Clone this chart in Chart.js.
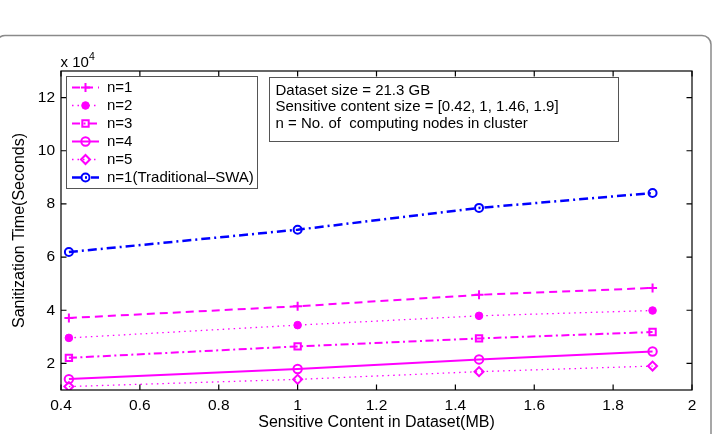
<!DOCTYPE html>
<html>
<head>
<meta charset="utf-8">
<script src="https://cdn.jsdelivr.net/npm/chart.js@4/dist/chart.umd.min.js"></script>
<style>
html,body{margin:0;padding:0;background:#fff;}
#wrap{width:719px;height:434px;position:relative;}
</style>
</head>
<body>
<div id="wrap"><canvas id="c" width="719" height="434"></canvas></div>
<script>
// ---- data ----
const sensitiveSizes = [0.42, 1, 1.46, 1.9];          // MB
const seriesLabels = ['n=1', 'n=2', 'n=3', 'n=4', 'n=5', 'n=1(Traditional\u2013SWA)'];
const timeN1 = [37100, 41500, 45800, 48400];
const timeN2 = [29600, 34400, 37900, 39900];
const timeN3 = [22100, 26400, 29400, 31800];
const timeN4 = [14100, 17900, 21500, 24500];
const timeN5 = [11300, 14000, 16900, 19000];
const timeTraditional = [61900, 70300, 78500, 84100];
const xTicks = [0.4, 0.6, 0.8, 1, 1.2, 1.4, 1.6, 1.8, 2];
const yTicks = [20000, 40000, 60000, 80000, 100000, 120000];
const infoLines = ['Dataset size = 21.3 GB', 'Sensitive content size = [0.42, 1, 1.46, 1.9]', 'n = No. of  computing nodes in cluster'];

const MAG = '#ff00ff', BLUE = '#0000ff';
const FONT = '"Liberation Sans", Arial, Helvetica, sans-serif';

function pts(arr){ return arr.map((v,i)=>({x: sensitiveSizes[i], y: v})); }

const datasets = [
  {label: seriesLabels[0], data: pts(timeN1), borderColor: MAG, backgroundColor: MAG, borderWidth: 2, borderDash: [8,5],
   pointStyle: 'cross', pointRadius: 4.5, pointBorderWidth: 2, pointBorderColor: MAG, pointBackgroundColor: MAG},
  {label: seriesLabels[1], data: pts(timeN2), borderColor: MAG, backgroundColor: MAG, borderWidth: 1.3, borderDash: [1.5,4],
   pointStyle: 'circle', pointRadius: 3.8, pointBorderWidth: 1, pointBorderColor: MAG, pointBackgroundColor: MAG},
  {label: seriesLabels[2], data: pts(timeN3), borderColor: MAG, backgroundColor: MAG, borderWidth: 2, borderDash: [8,3.5,2,3.5],
   pointStyle: 'rect', pointRadius: 4.5, pointBorderWidth: 2, pointBorderColor: MAG, pointBackgroundColor: 'rgba(0,0,0,0)'},
  {label: seriesLabels[3], data: pts(timeN4), borderColor: MAG, backgroundColor: MAG, borderWidth: 2, borderDash: [],
   pointStyle: 'circle', pointRadius: 4.2, pointBorderWidth: 2, pointBorderColor: MAG, pointBackgroundColor: 'rgba(0,0,0,0)'},
  {label: seriesLabels[4], data: pts(timeN5), borderColor: MAG, backgroundColor: MAG, borderWidth: 1.3, borderDash: [1.5,4],
   pointStyle: 'rectRot', pointRadius: 4.5, pointBorderWidth: 2, pointBorderColor: MAG, pointBackgroundColor: 'rgba(0,0,0,0)'},
  {label: seriesLabels[5], data: pts(timeTraditional), borderColor: BLUE, backgroundColor: BLUE, borderWidth: 2.5, borderDash: [9,4,2,4],
   pointStyle: 'circle', pointRadius: 4, pointBorderWidth: 2, pointBorderColor: BLUE, pointBackgroundColor: 'rgba(0,0,0,0)'}
];

function drawMarker(ctx, ds, x, y){
  const H = Chart.helpers;
  if (H && H.drawPoint) {
    ctx.save();
    ctx.strokeStyle = ds.pointBorderColor; ctx.fillStyle = ds.pointBackgroundColor;
    ctx.lineWidth = ds.pointBorderWidth; ctx.setLineDash([]);
    H.drawPoint(ctx, {pointStyle: ds.pointStyle, radius: ds.pointRadius, rotation: 0, borderWidth: ds.pointBorderWidth}, x, y);
    ctx.restore();
  }
}

const decor = {
  id: 'decor',
  beforeDraw(chart){
    const ctx = chart.ctx;
    ctx.save();
    // outer frame (partially visible rounded rect)
    ctx.strokeStyle = '#8a8a8a'; ctx.lineWidth = 1.5;
    const l = -4, t = 35.5, r = 711, b = 470, rad = 9;
    ctx.beginPath();
    ctx.moveTo(l + rad, t); ctx.lineTo(r - rad, t); ctx.arcTo(r, t, r, t + rad, rad);
    ctx.lineTo(r, b); ctx.lineTo(l, b); ctx.lineTo(l, t + rad); ctx.arcTo(l, t, l + rad, t, rad);
    ctx.stroke();
    ctx.restore();
  },
  afterDraw(chart){
    const ctx = chart.ctx, a = chart.chartArea;
    const xs = chart.scales.x, ys = chart.scales.y;
    ctx.save();
    // axes box
    ctx.strokeStyle = '#000'; ctx.lineWidth = 1.2; ctx.setLineDash([]);
    ctx.strokeRect(a.left, a.top, a.right - a.left, a.bottom - a.top);
    // inward ticks on all sides
    const tl = 5.5;
    ctx.beginPath();
    xs.ticks.forEach(t => {
      const px = xs.getPixelForValue(t.value);
      ctx.moveTo(px, a.bottom); ctx.lineTo(px, a.bottom - tl);
      ctx.moveTo(px, a.top); ctx.lineTo(px, a.top + tl);
    });
    ys.ticks.forEach(t => {
      const py = ys.getPixelForValue(t.value);
      ctx.moveTo(a.left, py); ctx.lineTo(a.left + tl, py);
      ctx.moveTo(a.right, py); ctx.lineTo(a.right - tl, py);
    });
    ctx.stroke();
    // exponent label
    ctx.fillStyle = '#000';
    ctx.textBaseline = 'alphabetic'; ctx.textAlign = 'left';
    ctx.font = '15px ' + FONT;
    ctx.fillText('x 10', a.left - 0.5, 66.5);
    ctx.font = '10.5px ' + FONT;
    ctx.fillText('4', 89, 60);

    // legend box
    const lx = 66, ly = 76, lw = 191, lh = 112;
    ctx.fillStyle = '#fff'; ctx.fillRect(lx, ly, lw, lh);
    ctx.strokeStyle = '#555'; ctx.lineWidth = 1; ctx.strokeRect(lx + 0.5, ly + 0.5, lw, lh);
    chart.data.datasets.forEach((ds, i) => {
      const y = 87.5 + i * 18;
      ctx.save();
      ctx.strokeStyle = ds.borderColor; ctx.lineWidth = ds.borderWidth;
      ctx.setLineDash(ds.borderDash || []);
      ctx.beginPath(); ctx.moveTo(72, y); ctx.lineTo(99, y); ctx.stroke();
      ctx.restore();
      drawMarker(ctx, ds, 85.5, y);
      ctx.fillStyle = '#000'; ctx.font = '15px ' + FONT;
      ctx.textBaseline = 'middle'; ctx.textAlign = 'left';
      ctx.fillText(ds.label, 107, y + 0.5);
    });

    // info text box
    const bx = 269, by = 77, bw = 349, bh = 64;
    ctx.fillStyle = '#fff'; ctx.fillRect(bx, by, bw, bh);
    ctx.strokeStyle = '#555'; ctx.lineWidth = 1; ctx.strokeRect(bx + 0.5, by + 0.5, bw, bh);
    ctx.fillStyle = '#000'; ctx.font = '15px ' + FONT;
    ctx.textBaseline = 'middle'; ctx.textAlign = 'left';
    infoLines.forEach((s, i) => ctx.fillText(s, 275.5, 90.5 + i * 16.5));
    ctx.restore();
  }
};

new Chart(document.getElementById('c'), {
  type: 'line',
  data: {datasets},
  options: {
    responsive: false,
    animation: false,
    layout: {padding: {left: 0, top: 71, right: 27, bottom: 0}},
    plugins: {legend: {display: false}, tooltip: {enabled: false}},
    scales: {
      x: {
        type: 'linear', min: 0.4, max: 2,
        afterBuildTicks: s => { s.ticks = xTicks.map(v => ({value: v})); },
        afterFit: s => { s.height = 44; },
        grid: {display: false, drawTicks: false},
        border: {display: false},
        ticks: {color: '#000', font: {family: FONT, size: 15.5}, padding: 6, maxRotation: 0,
                callback: v => String(Math.round(v * 10) / 10)},
        title: {display: true, text: 'Sensitive Content in Dataset(MB)', color: '#000',
                font: {family: FONT, size: 16}, padding: {top: 0, bottom: 2}}
      },
      y: {
        type: 'linear', min: 10000, max: 130000,
        afterBuildTicks: s => { s.ticks = yTicks.map(v => ({value: v})); },
        afterFit: s => { s.width = 61; },
        grid: {display: false, drawTicks: false},
        border: {display: false},
        ticks: {color: '#000', font: {family: FONT, size: 15.5}, padding: 6,
                callback: v => String(v / 10000)},
        title: {display: true, text: 'Sanitization Time(Seconds)', color: '#000',
                font: {family: FONT, size: 16}, padding: {top: 10, bottom: 0}}
      }
    }
  },
  plugins: [decor]
});
</script>
</body>
</html>
